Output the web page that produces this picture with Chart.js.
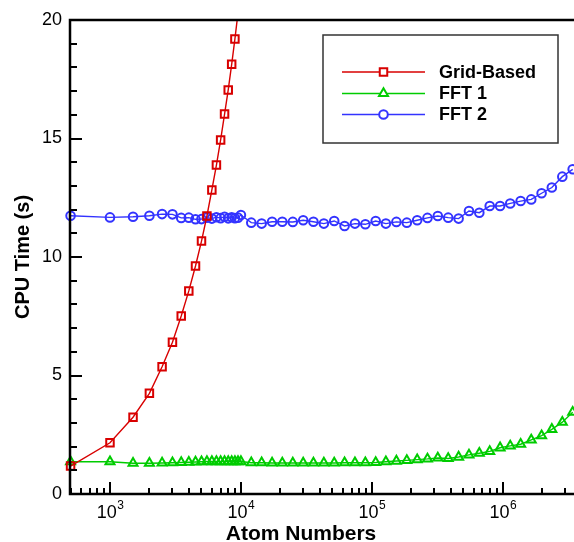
<!DOCTYPE html>
<html>
<head>
<meta charset="utf-8">
<script src="https://cdn.jsdelivr.net/npm/chart.js"></script>
<style>
  html, body { margin: 0; padding: 0; background: #ffffff; }
  #wrap { position: relative; width: 574px; height: 542px; }
</style>
</head>
<body>
<div id="wrap"><canvas id="cpuChart"></canvas></div>
<script>
// atom counts (x) and CPU times (y)
const gridX = [500, 1000, 1500, 2000, 2500, 3000, 3500, 4000, 4500, 5000,
    5500, 6000, 6500, 7000, 7500, 8000, 8500, 9000, 9500];
const gridY = [1.18, 2.16, 3.24, 4.25, 5.37, 6.40, 7.51, 8.57, 9.62, 10.67,
    11.73, 12.83, 13.88, 14.94, 16.03, 17.05, 18.13, 19.20, 20.30];

const fftX = [500, 1000, 1500, 2000, 2500, 3000, 3500, 4000, 4500, 5000,
    5500, 6000, 6500, 7000, 7500, 8000, 8500, 9000, 9500, 10000,
    12000, 14400, 17300, 20700, 24900, 29900, 35800, 43000, 51600, 61900,
    74300, 89200, 107000, 128000, 154000, 185000, 222000, 266000, 319000, 383000,
    460000, 552000, 662000, 795000, 954000, 1140000, 1370000, 1650000, 1980000, 2370000,
    2850000, 3420000];

const fft1Y = [1.36, 1.36, 1.30, 1.30, 1.31, 1.32, 1.33, 1.34, 1.35, 1.36,
    1.37, 1.37, 1.37, 1.37, 1.37, 1.37, 1.37, 1.37, 1.37, 1.37,
    1.32, 1.32, 1.31, 1.31, 1.31, 1.31, 1.31, 1.31, 1.31, 1.32,
    1.32, 1.32, 1.33, 1.36, 1.39, 1.42, 1.45, 1.48, 1.52, 1.50,
    1.56, 1.65, 1.72, 1.80, 1.95, 2.03, 2.10, 2.28, 2.46, 2.73,
    3.03, 3.45];

const fft2Y = [11.74, 11.67, 11.70, 11.74, 11.81, 11.80, 11.65, 11.66, 11.59, 11.60,
    11.66, 11.62, 11.68, 11.64, 11.70, 11.63, 11.68, 11.64, 11.66, 11.77,
    11.45, 11.41, 11.49, 11.49, 11.48, 11.55, 11.49, 11.41, 11.52, 11.31,
    11.41, 11.38, 11.52, 11.41, 11.48, 11.45, 11.55, 11.65, 11.73, 11.66,
    11.62, 11.94, 11.87, 12.15, 12.15, 12.26, 12.36, 12.43, 12.69, 12.93,
    13.39, 13.70];

const seriesNames = ['Grid-Based', 'FFT 1', 'FFT 2'];
const xDecades = [3, 4, 5, 6];      // labelled as 10^n
const yLabelled = [0, 5, 10, 15, 20];
const xTitle = 'Atom Numbers';

const RED = '#d80000';
const GREEN = '#00cc00';
const BLUE = '#3333ff';
const FONT = "'Liberation Sans', Arial, Helvetica, sans-serif";

function pts(xs, ys) {
    return xs.map((x, i) => ({ x: x, y: ys[i] }));
}

function series(label, data, color, style, radius) {
    return {
        label: label,
        data: data,
        borderColor: color,
        borderWidth: 1.4,
        pointStyle: style,
        pointRadius: radius,
        pointBorderWidth: 2,
        pointBorderColor: color,
        pointBackgroundColor: 'rgba(0,0,0,0)',
        backgroundColor: color,
        fill: false,
        tension: 0,
        clip: { left: 10, top: 0, right: 10, bottom: 10 }
    };
}

// inward ticks, frame, 10^n labels, x title and the boxed legend
const decor = {
    id: 'decor',
    afterDraw(chart) {
        const ctx = chart.ctx;
        const area = chart.chartArea;
        const xs = chart.scales.x;
        const ys = chart.scales.y;
        ctx.save();
        ctx.strokeStyle = '#000';

        // y ticks
        ctx.lineWidth = 2;
        for (let v = 0; v <= 20; v++) {
            const py = Math.round(ys.getPixelForValue(v));
            const len = v % 5 === 0 ? 12 : 7;
            ctx.beginPath();
            ctx.moveTo(area.left, py);
            ctx.lineTo(area.left + len, py);
            ctx.stroke();
        }

        // x ticks (decades plus 2..9 minors)
        for (let e = 2; e <= 6; e++) {
            for (let m = 1; m <= 9; m++) {
                const v = m * Math.pow(10, e);
                if (v < xs.min || v > xs.max) continue;
                const px = Math.round(xs.getPixelForValue(v));
                const len = m === 1 ? 12 : 6;
                ctx.beginPath();
                ctx.moveTo(px, area.bottom);
                ctx.lineTo(px, area.bottom - len);
                ctx.stroke();
            }
        }

        // frame
        ctx.lineWidth = 2.5;
        ctx.beginPath();
        ctx.moveTo(area.right + 2, area.top);
        ctx.lineTo(area.left, area.top);
        ctx.lineTo(area.left, area.bottom);
        ctx.lineTo(area.right + 2, area.bottom);
        ctx.stroke();

        // x labels 10^n
        ctx.fillStyle = '#000';
        ctx.textBaseline = 'alphabetic';
        ctx.textAlign = 'left';
        xDecades.forEach(function (e) {
            const px = xs.getPixelForValue(Math.pow(10, e));
            ctx.font = '18px ' + FONT;
            const w1 = ctx.measureText('10').width;
            ctx.font = '12px ' + FONT;
            const w2 = ctx.measureText(String(e)).width;
            const x0 = px - (w1 + w2) / 2;
            ctx.font = '18px ' + FONT;
            ctx.fillText('10', x0, area.bottom + 24);
            ctx.font = '12px ' + FONT;
            ctx.fillText(String(e), x0 + w1 + 0.5, area.bottom + 15);
        });

        // x title sits left of the plot centre in the original
        ctx.font = 'bold 21px ' + FONT;
        ctx.textAlign = 'center';
        ctx.fillText(xTitle, 301, area.bottom + 46);
        ctx.textAlign = 'left';

        // legend box
        const box = { l: 323, t: 35, r: 558, b: 143 };
        ctx.fillStyle = '#fff';
        ctx.fillRect(box.l, box.t, box.r - box.l, box.b - box.t);
        ctx.strokeStyle = '#333';
        ctx.lineWidth = 1.5;
        ctx.strokeRect(box.l, box.t, box.r - box.l, box.b - box.t);

        const rowY = [72, 93.5, 114.5];
        chart.data.datasets.forEach(function (ds, i) {
            const y = rowY[i];
            ctx.strokeStyle = ds.borderColor;
            ctx.lineWidth = 1.4;
            ctx.beginPath();
            ctx.moveTo(342, y);
            ctx.lineTo(425, y);
            ctx.stroke();
            ctx.fillStyle = '#fff';
            ctx.lineWidth = 2;
            Chart.helpers.drawPoint(ctx, {
                pointStyle: ds.pointStyle,
                radius: ds.pointRadius,
                rotation: 0,
                borderWidth: 2
            }, 383.5, y);
            ctx.fillStyle = '#000';
            ctx.font = 'bold 18px ' + FONT;
            ctx.textBaseline = 'middle';
            ctx.fillText(ds.label, 439, y + 1);
        });
        ctx.restore();
    }
};

new Chart(document.getElementById('cpuChart'), {
    type: 'line',
    data: {
        datasets: [
            series(seriesNames[0], pts(gridX, gridY), RED, 'rect', 5.3),
            series(seriesNames[1], pts(fftX, fft1Y), GREEN, 'triangle', 5.2),
            series(seriesNames[2], pts(fftX, fft2Y), BLUE, 'circle', 4.3)
        ]
    },
    options: {
        responsive: true,
        maintainAspectRatio: false,
        animation: false,
        // no auto padding: the plot runs right up to the canvas edge
        layout: { autoPadding: false, padding: { top: 20, right: 0, left: 0, bottom: 0 } },
        plugins: {
            legend: { display: false },
            tooltip: { enabled: false }
        },
        scales: {
            x: {
                type: 'logarithmic',
                min: 495,
                max: 3500000,
                grid: { display: false },
                border: { display: false },
                ticks: { display: false },
                afterFit(scale) { scale.height = 48; }
            },
            y: {
                min: 0,
                max: 20,
                grid: { display: false, drawTicks: false },
                border: { display: false },
                ticks: {
                    stepSize: 1,
                    autoSkip: false,
                    padding: 8,
                    color: '#000',
                    font: { family: FONT, size: 18 },
                    callback: v => yLabelled.includes(v) ? String(v) : ''
                },
                title: {
                    display: true,
                    text: 'CPU Time (s)',
                    color: '#000',
                    font: { family: FONT, size: 20, weight: 'bold', lineHeight: 1.2 },
                    padding: { top: 11, bottom: 0 }
                },
                afterFit(scale) { scale.width = 70; }
            }
        }
    },
    plugins: [decor]
});
</script>
</body>
</html>
